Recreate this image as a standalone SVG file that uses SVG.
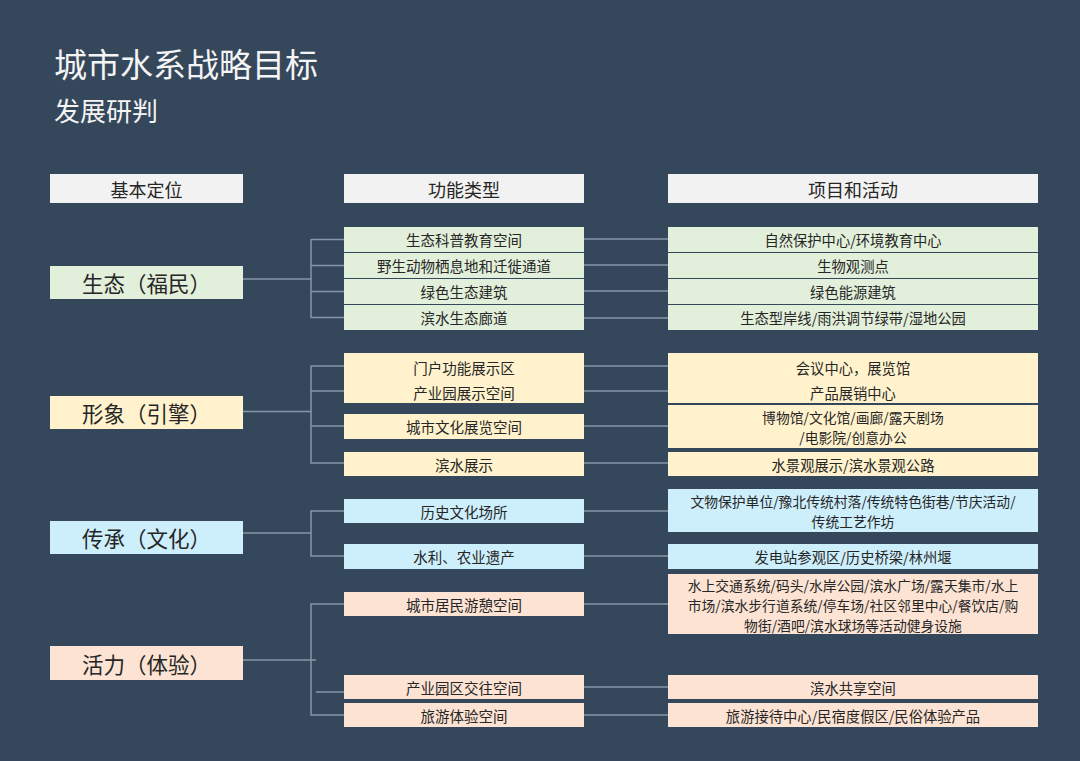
<svg xmlns="http://www.w3.org/2000/svg" width="1080" height="761" viewBox="0 0 1080 761">
<style>
text{font-family:"Noto Sans CJK SC","Noto Sans",sans-serif;fill:#262626;text-anchor:middle;dominant-baseline:central}
.title{fill:#f4f4f4;text-anchor:start;dominant-baseline:auto}
.hd{font-size:18px}
.main{font-size:21.5px}
.t{font-size:14.5px}
.r{font-size:14.3px}
.m{font-size:13.8px}
.hbox{fill:#f2f2f2}
.g{fill:#e2efda}
.y{fill:#fff2cc}
.b{fill:#cdeefb}
.p{fill:#fce3d3}
.conn line{stroke:#8796a7;stroke-width:1.5}
</style>
<rect width="1080" height="761" fill="#35475b"/>
<text class="title" x="54" y="77" font-size="33">城市水系战略目标</text>
<text class="title" x="54" y="121" font-size="26">发展研判</text>

<g id="connectors" class="conn">
<line x1="243" y1="279" x2="311" y2="279"/>
<line x1="311" y1="239" x2="311" y2="318"/>
<line x1="311" y1="239.5" x2="344" y2="239.5"/>
<line x1="311" y1="265.5" x2="344" y2="265.5"/>
<line x1="311" y1="291.5" x2="344" y2="291.5"/>
<line x1="311" y1="317.5" x2="344" y2="317.5"/>
<line x1="584" y1="239" x2="668" y2="239"/>
<line x1="584" y1="265" x2="668" y2="265"/>
<line x1="584" y1="291" x2="668" y2="291"/>
<line x1="584" y1="318" x2="668" y2="318"/>

<line x1="243" y1="411.5" x2="311" y2="411.5"/>
<line x1="311" y1="365.5" x2="311" y2="463.5"/>
<line x1="311" y1="366" x2="344" y2="366"/>
<line x1="311" y1="391" x2="344" y2="391"/>
<line x1="311" y1="426" x2="344" y2="426"/>
<line x1="311" y1="463" x2="344" y2="463"/>
<line x1="584" y1="366" x2="668" y2="366"/>
<line x1="584" y1="391" x2="668" y2="391"/>
<line x1="584" y1="426" x2="668" y2="426"/>
<line x1="584" y1="463" x2="668" y2="463"/>

<line x1="243" y1="533" x2="311" y2="533"/>
<line x1="311" y1="510.5" x2="311" y2="556.5"/>
<line x1="311" y1="511" x2="344" y2="511"/>
<line x1="311" y1="556" x2="344" y2="556"/>
<line x1="584" y1="511" x2="668" y2="511"/>
<line x1="584" y1="556" x2="668" y2="556"/>

<line x1="243" y1="660" x2="316" y2="660"/>
<line x1="311" y1="603.5" x2="311" y2="715.5"/>
<line x1="311" y1="604" x2="344" y2="604"/>
<line x1="316" y1="692" x2="344" y2="692"/>
<line x1="311" y1="715" x2="344" y2="715"/>
<line x1="584" y1="604" x2="668" y2="604"/>
<line x1="584" y1="687" x2="668" y2="687"/>
<line x1="584" y1="715" x2="668" y2="715"/>
</g>

<g id="header-positioning"><rect class="hbox" x="50" y="174" width="193" height="29"/><text class="hd" x="146.5" y="188.5">基本定位</text></g>
<g id="header-function"><rect class="hbox" x="344" y="174" width="240" height="29"/><text class="hd" x="464" y="188.5">功能类型</text></g>
<g id="header-projects"><rect class="hbox" x="668" y="174" width="370" height="29"/><text class="hd" x="853" y="188.5">项目和活动</text></g>

<g id="eco-main"><rect class="g" x="50" y="266" width="193" height="33"/><text class="main" x="146.5" y="282.5">生态（福民）</text></g>
<g id="eco-f1"><rect class="g" x="344" y="227" width="240" height="25"/><text class="t" x="464" y="239.5">生态科普教育空间</text></g>
<g id="eco-f2"><rect class="g" x="344" y="253" width="240" height="25"/><text class="t" x="464" y="265.5">野生动物栖息地和迁徙通道</text></g>
<g id="eco-f3"><rect class="g" x="344" y="279" width="240" height="25"/><text class="t" x="464" y="291.5">绿色生态建筑</text></g>
<g id="eco-f4"><rect class="g" x="344" y="305" width="240" height="25"/><text class="t" x="464" y="317.5">滨水生态廊道</text></g>
<g id="eco-p1"><rect class="g" x="668" y="227" width="370" height="25"/><text class="r" x="853" y="239.5">自然保护中心/环境教育中心</text></g>
<g id="eco-p2"><rect class="g" x="668" y="253" width="370" height="25"/><text class="r" x="853" y="265.5">生物观测点</text></g>
<g id="eco-p3"><rect class="g" x="668" y="279" width="370" height="25"/><text class="r" x="853" y="291.5">绿色能源建筑</text></g>
<g id="eco-p4"><rect class="g" x="668" y="305" width="370" height="25"/><text class="r" x="853" y="317.5">生态型岸线/雨洪调节绿带/湿地公园</text></g>

<g id="img-main"><rect class="y" x="50" y="396" width="193" height="33"/><text class="main" x="146.5" y="412.5">形象（引擎）</text></g>
<g id="img-f1"><rect class="y" x="344" y="353" width="240" height="50"/><text class="t" x="464" y="367">门户功能展示区</text><text class="t" x="464" y="392">产业园展示空间</text></g>
<g id="img-f2"><rect class="y" x="344" y="414" width="240" height="25"/><text class="t" x="464" y="426.5">城市文化展览空间</text></g>
<g id="img-f3"><rect class="y" x="344" y="452" width="240" height="24"/><text class="t" x="464" y="464">滨水展示</text></g>
<g id="img-p1"><rect class="y" x="668" y="353" width="370" height="50"/><text class="r" x="853" y="367">会议中心，展览馆</text><text class="r" x="853" y="392">产品展销中心</text></g>
<g id="img-p2"><rect class="y" x="668" y="405" width="370" height="43"/><text class="m" x="853" y="416.5">博物馆/文化馆/画廊/露天剧场<tspan x="853" dy="20">/电影院/创意办公</tspan></text></g>
<g id="img-p3"><rect class="y" x="668" y="452" width="370" height="24"/><text class="r" x="853" y="464">水景观展示/滨水景观公路</text></g>

<g id="her-main"><rect class="b" x="50" y="521" width="193" height="33"/><text class="main" x="146.5" y="537.5">传承（文化）</text></g>
<g id="her-f1"><rect class="b" x="344" y="499" width="240" height="24"/><text class="t" x="464" y="511">历史文化场所</text></g>
<g id="her-f2"><rect class="b" x="344" y="544" width="240" height="25"/><text class="t" x="464" y="556.5">水利、农业遗产</text></g>
<g id="her-p1"><rect class="b" x="668" y="489" width="370" height="43"/><text class="m" x="853" y="500.5">文物保护单位/豫北传统村落/传统特色街巷/节庆活动/<tspan x="853" dy="20">传统工艺作坊</tspan></text></g>
<g id="her-p2"><rect class="b" x="668" y="544" width="370" height="25"/><text class="r" x="853" y="556.5">发电站参观区/历史桥梁/林州堰</text></g>

<g id="viv-main"><rect class="p" x="50" y="646" width="193" height="34"/><text class="main" x="146.5" y="663">活力（体验）</text></g>
<g id="viv-f1"><rect class="p" x="344" y="592" width="240" height="24"/><text class="t" x="464" y="604">城市居民游憩空间</text></g>
<g id="viv-f2"><rect class="p" x="344" y="675" width="240" height="24"/><text class="t" x="464" y="687">产业园区交往空间</text></g>
<g id="viv-f3"><rect class="p" x="344" y="703" width="240" height="24"/><text class="t" x="464" y="715">旅游体验空间</text></g>
<g id="viv-p1"><rect class="p" x="668" y="574" width="370" height="60"/><text class="m" x="853" y="584.5">水上交通系统/码头/水岸公园/滨水广场/露天集市/水上<tspan x="853" dy="20">市场/滨水步行道系统/停车场/社区邻里中心/餐饮店/购</tspan><tspan x="853" dy="20">物街/酒吧/滨水球场等活动健身设施</tspan></text></g>
<g id="viv-p2"><rect class="p" x="668" y="675" width="370" height="24"/><text class="r" x="853" y="687">滨水共享空间</text></g>
<g id="viv-p3"><rect class="p" x="668" y="703" width="370" height="24"/><text class="r" x="853" y="715">旅游接待中心/民宿度假区/民俗体验产品</text></g>
</svg>
